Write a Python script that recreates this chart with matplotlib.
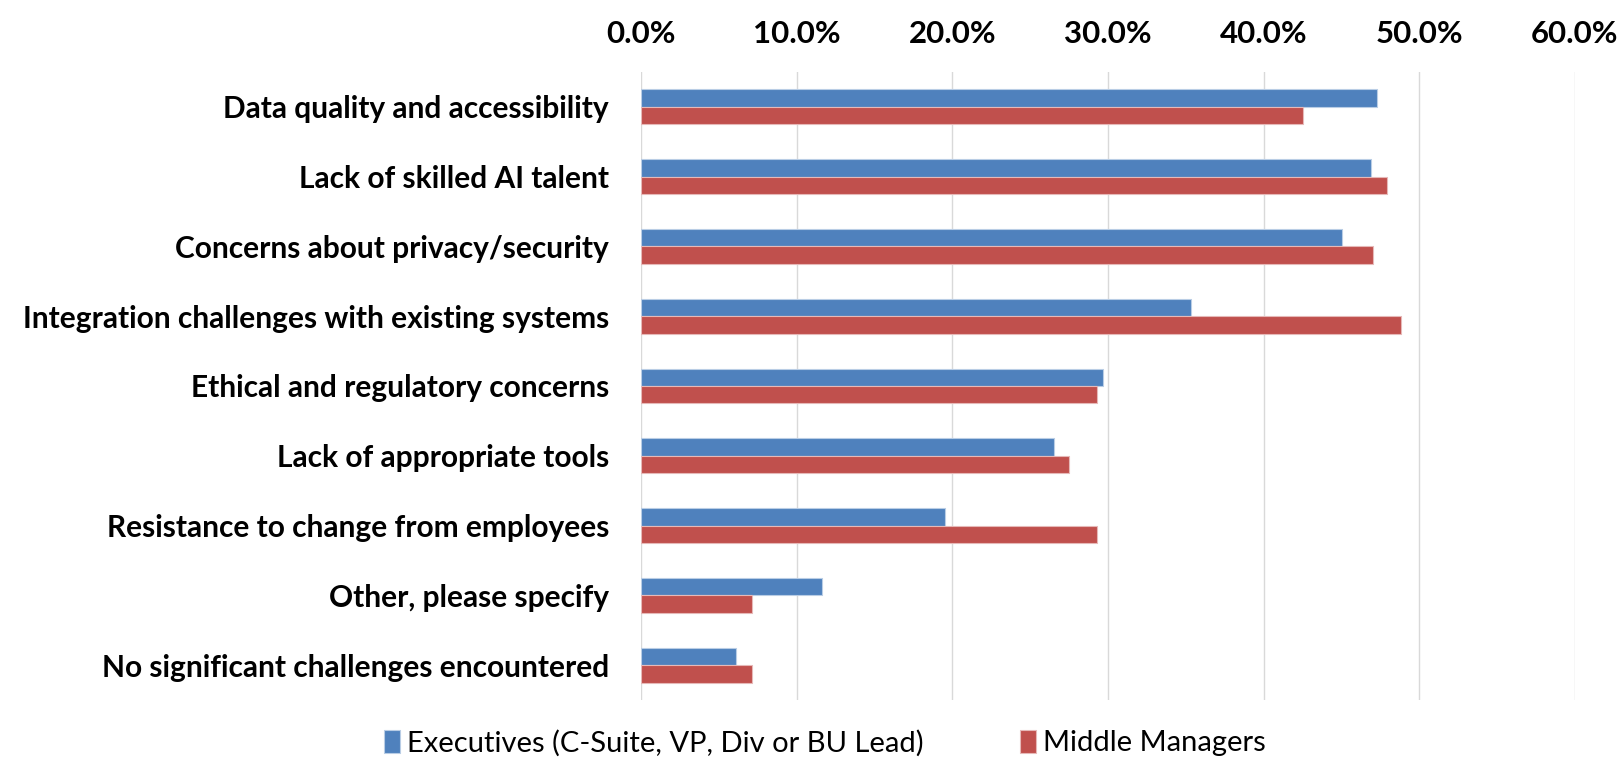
import numpy as np
import matplotlib
matplotlib.use("Agg")
import matplotlib.pyplot as plt
from matplotlib.ticker import FuncFormatter

CATEGORIES = [
    "Data quality and accessibility",
    "Lack of skilled AI talent",
    "Concerns about privacy/security",
    "Integration challenges with existing systems",
    "Ethical and regulatory concerns",
    "Lack of appropriate tools",
    "Resistance to change from employees",
    "Other, please specify",
    "No significant challenges encountered",
]
EXECUTIVES = [0.473, 0.469, 0.450, 0.353, 0.297, 0.265, 0.195, 0.116, 0.061]
MIDDLE_MGRS = [0.425, 0.479, 0.470, 0.488, 0.293, 0.275, 0.293, 0.071, 0.071]
SERIES_NAMES = ["Executives (C-Suite, VP, Div or BU Lead)", "Middle Managers"]
X_TICKS = [0.0, 0.1, 0.2, 0.3, 0.4, 0.5, 0.6]

BLUE = "#4F81BD"
RED = "#C0504D"
FONT = "Lato"


def main():
    fig = plt.figure(figsize=(16.21, 7.6), dpi=100)
    ax = fig.add_axes([641 / 1621, 1 - 700 / 760, 934 / 1621, 628 / 760])

    y = np.arange(len(CATEGORIES))
    h = 0.25
    ax.barh(y - h / 2, EXECUTIVES, height=h, color=BLUE, edgecolor="#B9CDE5",
            linewidth=0.8, label=SERIES_NAMES[0], zorder=3)
    ax.barh(y + h / 2, MIDDLE_MGRS, height=h, color=RED, edgecolor="#E6B9B8",
            linewidth=0.8, label=SERIES_NAMES[1], zorder=3)

    ax.set_ylim(len(CATEGORIES) - 0.5, -0.5)
    ax.set_yticks(y)
    ax.set_yticklabels(CATEGORIES, fontsize=21.5, fontweight="bold", family=FONT)

    ax.set_xlim(0, 0.6)
    ax.set_xticks(X_TICKS)
    ax.xaxis.set_major_formatter(FuncFormatter(lambda v, _: f"{v * 100:.1f}%"))
    ax.xaxis.tick_top()
    for lab in ax.get_xticklabels():
        lab.set_fontsize(22.5)
        lab.set_fontweight("bold")
        lab.set_family(FONT)

    ax.tick_params(axis="both", length=0)
    ax.tick_params(axis="x", pad=17)
    ax.tick_params(axis="y", pad=23)
    ax.grid(axis="x", color="#D9D9D9", linewidth=1.0, zorder=0)
    for s in ax.spines.values():
        s.set_visible(False)

    fig.legend(loc="center", bbox_to_anchor=(825 / 1621, 1 - 743 / 760),
               ncol=2, frameon=False, handlelength=0.55, handleheight=0.85,
               handletextpad=0.25, columnspacing=3.3,
               prop={"family": FONT, "size": 21})

    fig.savefig("out.png", dpi=100, facecolor="white")


if __name__ == "__main__":
    main()
